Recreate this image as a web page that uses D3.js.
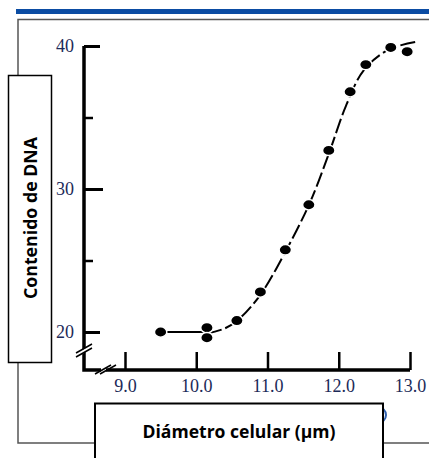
<!DOCTYPE html>
<html>
<head>
<meta charset="utf-8">
<script src="https://cdn.jsdelivr.net/npm/d3@7"></script>
<style>
  body { margin: 0; background: #fff; }
  svg { display: block; }
  .tick text { font-family: "Liberation Serif", "DejaVu Serif", serif; font-size: 18px; fill: #1c2a58; }
  .box text { font-family: "Open Sans", "Liberation Sans", sans-serif; font-weight: bold; font-size: 17px; fill: #000; }
</style>
</head>
<body>
<div id="chart"></div>
<script>
// measured points (cell diameter um, DNA content)
var DIAMETER = [9.5, 10.15, 10.15, 10.57, 10.9, 11.25, 11.58, 11.86, 12.16, 12.38, 12.73, 12.96];
var DNA = [20.0, 20.3, 19.6, 20.8, 22.8, 25.75, 28.9, 32.7, 36.8, 38.7, 39.9, 39.6];

// hand drawn trend line
var CURVE_X = [10.15, 10.4, 10.6, 10.9, 11.25, 11.6, 11.87, 12.1, 12.35, 12.7, 13.1];
var CURVE_Y = [19.9, 20.25, 20.9, 22.6, 25.6, 29.1, 32.6, 35.8, 38.3, 39.75, 40.3];
var FLAT_X = [9.5, 10.15];
var FLAT_Y = [20.0, 20.0];

var X_TICKS = [9, 10, 11, 12, 13];
var Y_TICKS = [20, 25, 30, 35, 40];
var Y_LABELED = [20, 30, 40];

var X_TITLE = 'Diámetro celular (µm)';
var Y_TITLE = 'Contenido de DNA';

var W = 429, H = 458;

var svg = d3.select('#chart').append('svg')
    .attr('width', W)
    .attr('height', H);

var x = d3.scaleLinear().domain([9, 13]).range([125, 410]);
var y = d3.scaleLinear().domain([20, 40]).range([332, 46]);

// slide decoration: blue bar + frame
svg.append('rect')
    .attr('x', 16).attr('y', 9)
    .attr('width', W - 16).attr('height', 5)
    .attr('fill', '#0b4ca3');

svg.append('path')
    .attr('d', 'M' + W + ',19.5H18V443H' + W)
    .attr('fill', 'none')
    .attr('stroke', '#555')
    .attr('stroke-width', 1.5);

// small blue arc peeking out behind the x title box
svg.append('ellipse')
    .attr('cx', 378).attr('cy', 415)
    .attr('rx', 8).attr('ry', 8)
    .attr('fill', 'none')
    .attr('stroke', '#2e5fae')
    .attr('stroke-width', 2);

// axes
var xAxis = d3.axisBottom(x)
    .tickValues(X_TICKS)
    .tickSize(-18)
    .tickPadding(9)
    .tickFormat(d3.format('.1f'));

var gx = svg.append('g')
    .attr('transform', 'translate(0,370)')
    .call(xAxis);
gx.select('.domain').remove();
gx.selectAll('.tick line').attr('stroke', '#000').attr('stroke-width', 2.5);

var yAxis = d3.axisLeft(y)
    .tickValues(Y_TICKS)
    .tickSize(-17)
    .tickPadding(10)
    .tickFormat(function(d) { return Y_LABELED.indexOf(d) >= 0 ? d : ''; });

var gy = svg.append('g')
    .attr('transform', 'translate(84,0)')
    .call(yAxis);
gy.select('.domain').remove();
gy.selectAll('.tick line')
    .attr('stroke', '#000')
    .attr('stroke-width', function(d) { return Y_LABELED.indexOf(d) >= 0 ? 3 : 2.5; })
    .attr('x2', function(d) { return Y_LABELED.indexOf(d) >= 0 ? (d === 30 ? 19 : 16) : 9; });

svg.append('path')
    .attr('d', 'M84,' + y(40) + 'V370H' + x(13))
    .attr('fill', 'none')
    .attr('stroke', '#000')
    .attr('stroke-width', 3.5);

// axis breaks
function axisBreak(cx, cy) {
    var g = svg.append('g').attr('transform', 'translate(' + cx + ',' + cy + ')');
    g.append('path')
        .attr('d', 'M-7,6L7,-2L7,-6L-7,2Z')
        .attr('fill', '#fff');
    g.append('path')
        .attr('d', 'M-8,6L8,-3M-8,2L8,-7')
        .attr('stroke', '#000')
        .attr('stroke-width', 1.5);
}
axisBreak(84, 351);
svg.append('rect').attr('x', 101).attr('y', 367).attr('width', 5).attr('height', 6).attr('fill', '#fff');
svg.append('path')
    .attr('d', 'M95,374L111,365M100,374L116,365')
    .attr('stroke', '#000')
    .attr('stroke-width', 1.5);

// curve
var line = d3.line()
    .x(function(d) { return x(d[0]); })
    .y(function(d) { return y(d[1]); })
    .curve(d3.curveCatmullRom);

svg.append('path')
    .datum(d3.zip(FLAT_X, FLAT_Y))
    .attr('d', line)
    .attr('fill', 'none')
    .attr('stroke', '#000')
    .attr('stroke-width', 2);

svg.append('path')
    .datum(d3.zip(CURVE_X, CURVE_Y))
    .attr('d', line)
    .attr('fill', 'none')
    .attr('stroke', '#000')
    .attr('stroke-width', 2)
    .attr('stroke-dasharray', '15,4');

// dots
svg.selectAll('.dot')
    .data(d3.zip(DIAMETER, DNA))
    .enter()
    .append('ellipse')
    .attr('class', 'dot')
    .attr('cx', function(d) { return x(d[0]); })
    .attr('cy', function(d) { return y(d[1]); })
    .attr('rx', 6.2)
    .attr('ry', 5.2)
    .attr('fill', '#000')
    .attr('stroke', '#fff')
    .attr('stroke-width', 1.5);

// title boxes
var yBox = svg.append('g').attr('class', 'box');
yBox.append('rect')
    .attr('x', 8.5).attr('y', 75.5)
    .attr('width', 43).attr('height', 287)
    .attr('fill', '#fff')
    .attr('stroke', '#000')
    .attr('stroke-width', 1.5);
yBox.append('text')
    .attr('transform', 'translate(37,218) rotate(-90)')
    .attr('text-anchor', 'middle')
    .attr('textLength', 162)
    .attr('lengthAdjust', 'spacingAndGlyphs')
    .text(Y_TITLE);

var xBox = svg.append('g').attr('class', 'box');
xBox.append('rect')
    .attr('x', 95).attr('y', 403.5)
    .attr('width', 288).attr('height', 60)
    .attr('fill', '#fff')
    .attr('stroke', '#000')
    .attr('stroke-width', 2);
xBox.append('text')
    .attr('x', 239).attr('y', 438)
    .attr('text-anchor', 'middle')
    .attr('textLength', 193)
    .attr('lengthAdjust', 'spacingAndGlyphs')
    .text(X_TITLE);
</script>
</body>
</html>
